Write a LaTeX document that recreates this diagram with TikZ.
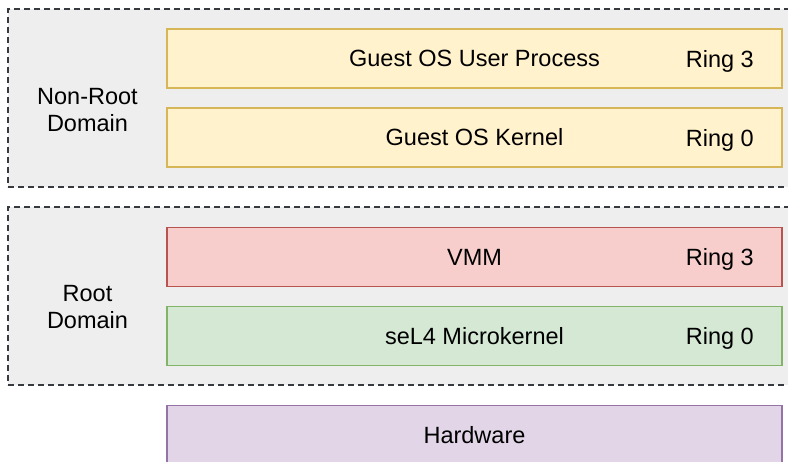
\documentclass[tikz,border=0pt]{standalone}
\usepackage{fontspec}
\setmainfont{Liberation Sans}
\definecolor{yelfill}{HTML}{FFF2CC}
\definecolor{yeldraw}{HTML}{D6B656}
\definecolor{redfill}{HTML}{F8CECC}
\definecolor{reddraw}{HTML}{B85450}
\definecolor{grnfill}{HTML}{D5E8D4}
\definecolor{grndraw}{HTML}{82B366}
\definecolor{purfill}{HTML}{E1D5E7}
\definecolor{purdraw}{HTML}{9673A6}
\definecolor{domfill}{HTML}{EEEEEE}
\definecolor{domdraw}{HTML}{36393D}
\begin{document}
\begin{tikzpicture}[x=1pt,y=-1pt,
  font=\fontsize{23.5}{27}\selectfont,
  dombox/.style={draw=domdraw,fill=domfill,line width=1.5pt,dash pattern=on 6pt off 4pt,
    minimum width=792pt,minimum height=178pt,inner sep=0pt},
  layer/.style={line width=1.6pt,minimum width=615pt,minimum height=59pt,inner sep=0pt},
  ring/.style={anchor=east,inner sep=0pt,text depth=0pt}]
\useasboundingbox (0,0) rectangle (788,462);
\clip (0,0) rectangle (788,462);
\node[dombox] (nonroot) at (404,98) {};
\node[dombox] (root) at (404,296) {};
\node[align=center] (nonrootlbl) at (87.5,110) {Non-Root\\Domain};
\node[align=center] (rootlbl) at (87.5,307) {Root\\Domain};
\node[layer,draw=yeldraw,fill=yelfill] (user) at (474.5,58.5) {Guest OS User Process};
\node[layer,draw=yeldraw,fill=yelfill] (kernel) at (474.5,137.5) {Guest OS Kernel};
\node[layer,draw=reddraw,fill=redfill] (vmm) at (474.5,257) {VMM};
\node[layer,draw=grndraw,fill=grnfill] (sel4) at (474.5,336) {seL4 Microkernel};
\node[layer,draw=purdraw,fill=purfill] (hw) at (474.5,435) {Hardware};
\node[ring] (userring) at (754,58.5) {Ring 3};
\node[ring] (kernelring) at (754,137.5) {Ring 0};
\node[ring] (vmmring) at (754,257) {Ring 3};
\node[ring] (sel4ring) at (754,336) {Ring 0};
\end{tikzpicture}
\end{document}
